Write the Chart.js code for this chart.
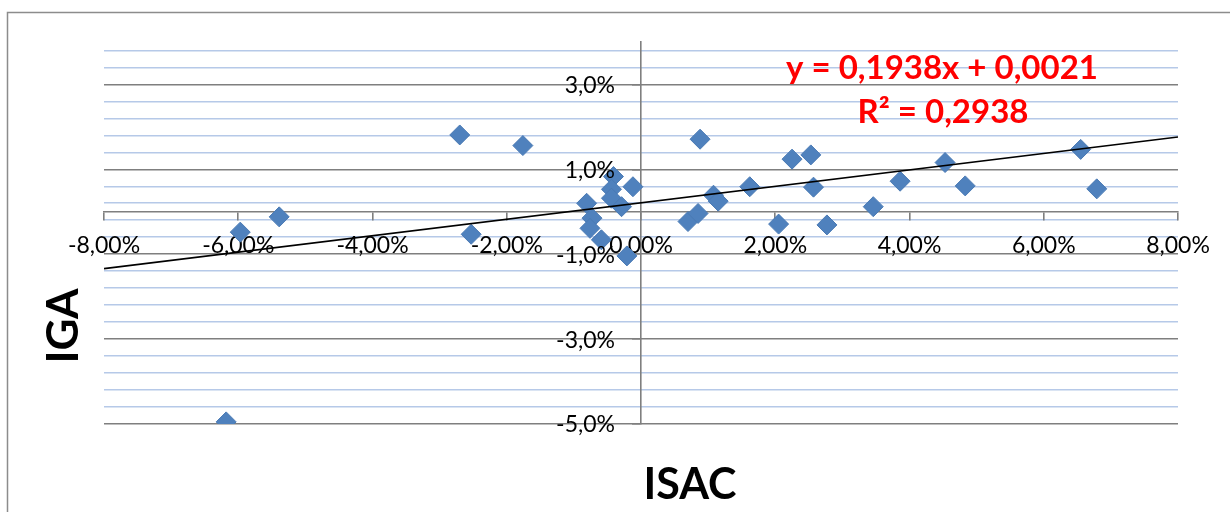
<!DOCTYPE html>
<html>
<head>
<meta charset="utf-8">
<script src="https://cdn.jsdelivr.net/npm/chart.js@4.4.1/dist/chart.umd.min.js"></script>
<style>
    html, body { margin: 0; padding: 0; background: #fff; }
    #grafico { display: block; }
</style>
</head>
<body>
<canvas id="grafico" width="1230" height="512"></canvas>
<script>
// valores em % (ISAC no eixo x, IGA no eixo y)
const isac = [-6.18, -5.97, -5.39, -2.70, -1.76, -2.53, -0.81, -0.73, -0.76, -0.59, -0.21,
    -0.41, -0.44, -0.44, -0.29, -0.12, 0.88, 0.70, 0.85, 1.08, 1.15, 1.62, 2.05, 2.25,
    2.53, 2.57, 2.77, 3.46, 3.86, 4.53, 4.83, 6.55, 6.79];
const iga = [-4.95, -0.48, -0.12, 1.81, 1.56, -0.53, 0.20, -0.15, -0.39, -0.66, -1.04,
    0.83, 0.53, 0.32, 0.12, 0.59, 1.71, -0.23, -0.04, 0.39, 0.25, 0.59, -0.29, 1.24,
    1.34, 0.58, -0.31, 0.12, 0.72, 1.16, 0.61, 1.47, 0.54];

const xTicks = [-8, -6, -4, -2, 0, 2, 4, 6, 8];
const yTicks = [-5, -3, -1, 1, 3];
const yMinor = [-4.6, -4.2, -3.8, -3.4, -2.6, -2.2, -1.8, -1.4, -0.6, -0.2, 0.2, 0.6,
    1.4, 1.8, 2.2, 2.6, 3.4, 3.8];

// linha de tendência (Excel): y = 0,1938x + 0,0021
const slope = 0.1938;
const intercept = 0.21; // em %
const trendX = [-8, 8];
const eqText = 'y = 0,1938x + 0,0021';
const r2Text = 'R² = 0,2938';

const pontos = isac.map((x, i) => ({ x: x, y: iga[i] }));
const tendencia = trendX.map(x => ({ x: x, y: slope * x + intercept }));

const fmtX = v => v.toFixed(2).replace('.', ',') + '%';
const fmtY = v => v.toFixed(1).replace('.', ',') + '%';

const extras = {
    id: 'extras',
    beforeDraw(chart) {
        const ctx = chart.ctx;
        ctx.save();
        ctx.strokeStyle = '#8c8c8c';
        ctx.lineWidth = 1.5;
        ctx.strokeRect(7.5, 12.5, 1260, 540);
        ctx.restore();
    },
    afterDraw(chart) {
        const ctx = chart.ctx;
        const sx = chart.scales.x, sy = chart.scales.y;
        ctx.save();
        // rótulos do eixo y, à esquerda da linha x = 0
        ctx.fillStyle = '#000';
        ctx.font = '23px Lato';
        ctx.textAlign = 'right';
        ctx.textBaseline = 'middle';
        const x0 = sx.getPixelForValue(0);
        sy.ticks.forEach(t => ctx.fillText(fmtY(t.value), x0 - 26, sy.getPixelForValue(t.value) + 1));

        // equação e R²
        ctx.fillStyle = '#ff0000';
        ctx.font = 'bold 33px Lato';
        ctx.textAlign = 'center';
        ctx.fillText(eqText, 942, 68);
        ctx.fillText(r2Text, 943, 112);

        // títulos dos eixos
        ctx.fillStyle = '#000';
        ctx.font = 'bold 43px Lato';
        ctx.fillText('ISAC', 690, 485);
        ctx.translate(64, 326);
        ctx.rotate(-Math.PI / 2);
        ctx.font = 'bold 44px Lato';
        ctx.fillText('IGA', 0, 0);
        ctx.restore();
    }
};

new Chart(document.getElementById('grafico'), {
    type: 'scatter',
    data: {
        datasets: [
            {
                type: 'line',
                label: 'Linear',
                data: tendencia,
                borderColor: '#000',
                borderWidth: 1.6,
                pointRadius: 0,
                fill: false
            },
            {
                label: 'IGA x ISAC',
                data: pontos,
                pointStyle: 'rectRot',
                pointRadius: 10,
                backgroundColor: '#4f81bd',
                borderColor: '#4a7ab4',
                borderWidth: 1
            }
        ]
    },
    options: {
        responsive: false,
        animation: false,
        devicePixelRatio: 1,
        layout: { padding: { left: 104, right: 52, top: 42, bottom: 88 } },
        plugins: { legend: { display: false }, tooltip: { enabled: false } },
        scales: {
            yMinor: {
                axis: 'y',
                type: 'linear',
                min: -5, max: 4,
                position: { x: 0 },
                afterBuildTicks: s => { s.ticks = yMinor.map(v => ({ value: v })); },
                grid: { color: '#b6c9e8', lineWidth: 1.6, drawTicks: false },
                border: { display: false },
                ticks: { display: false }
            },
            y: {
                type: 'linear',
                min: -5, max: 4,
                position: { x: 0 },
                afterBuildTicks: s => { s.ticks = yTicks.map(v => ({ value: v })); },
                grid: { color: '#7f7f7f', lineWidth: 1.6, tickLength: 8 },
                border: { display: true, color: '#7f7f7f', width: 1.6 },
                ticks: { display: false }
            },
            x: {
                type: 'linear',
                min: -8, max: 8,
                position: { y: 0 },
                afterBuildTicks: s => { s.ticks = xTicks.map(v => ({ value: v })); },
                grid: { drawOnChartArea: false, color: '#7f7f7f', lineWidth: 1.6, tickLength: 8 },
                border: { display: true, color: '#7f7f7f', width: 1.6 },
                ticks: {
                    color: '#000',
                    font: { family: 'Lato', size: 23 },
                    padding: 12,
                    maxRotation: 0,
                    autoSkip: false,
                    callback: v => fmtX(v)
                }
            }
        }
    },
    plugins: [extras]
});
</script>
</body>
</html>
